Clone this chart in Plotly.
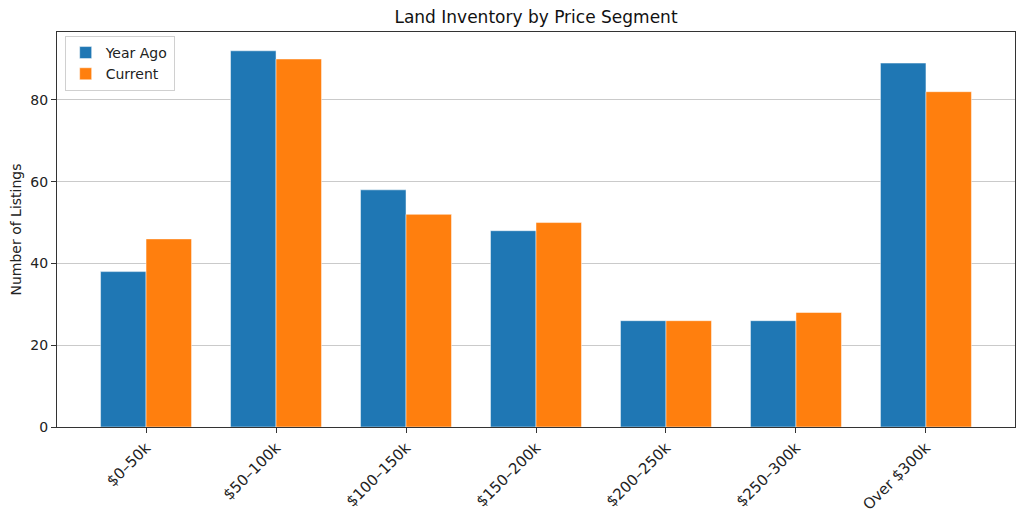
import plotly.graph_objects as go

categories = ["$0–50k", "$50–100k", "$100–150k", "$150–200k", "$200–250k", "$250–300k", "Over $300k"]
year_ago = [38, 92, 58, 48, 26, 26, 89]
current = [46, 90, 52, 50, 26, 28, 82]
y_ticks = [0, 20, 40, 60, 80]

FONT = "DejaVu Sans"
# page body has an 8px default margin, so the figure is sized to fit the window
W, H = 1016, 509

fig = go.Figure()
fig.add_trace(go.Bar(x=categories, y=year_ago, name="Year Ago", marker_color="#1f77b4",
                     marker_line=dict(color="rgba(255,255,255,0.6)", width=0.8)))
fig.add_trace(go.Bar(x=categories, y=current, name="Current", marker_color="#ff7f0e",
                     marker_line=dict(color="rgba(255,255,255,0.6)", width=0.8)))

fig.update_layout(
    width=W, height=H,
    margin=dict(l=49, r=9, t=24, b=90, autoexpand=False),
    paper_bgcolor="white", plot_bgcolor="white",
    barmode="group", bargap=0.3, bargroupgap=0,
    font=dict(family=FONT, size=14, color="#222"),
    title=dict(text="Land Inventory by Price Segment", x=(536 - 8) / W, xanchor="center",
               y=1 - 9 / H, yanchor="middle", font=dict(size=17, color="#111")),
    legend=dict(x=0.008, y=0.99, xanchor="left", yanchor="top",
                bordercolor="#d0d0d0", borderwidth=1, bgcolor="rgba(255,255,255,0.8)",
                font=dict(size=14), tracegroupgap=2),
    showlegend=True,
)
fig.update_xaxes(
    range=[-0.685, 6.685], tickangle=-45, ticks="outside", ticklen=5, tickcolor="#333",
    showline=True, linecolor="#333", linewidth=1, mirror=True, showgrid=False,
    tickfont=dict(size=15), automargin=False,
)
fig.update_yaxes(
    range=[0, 96.6], tickvals=y_ticks, ticks="outside", ticklen=5, tickcolor="#333",
    showline=True, linecolor="#333", linewidth=1, mirror=True,
    showgrid=True, gridcolor="rgba(150,150,150,0.5)", gridwidth=1,
    layer="above traces", zeroline=False,
    title=dict(text="Number of Listings", font=dict(size=14), standoff=8),
    tickfont=dict(size=14), automargin=False,
)

fig.write_html("out.html")
